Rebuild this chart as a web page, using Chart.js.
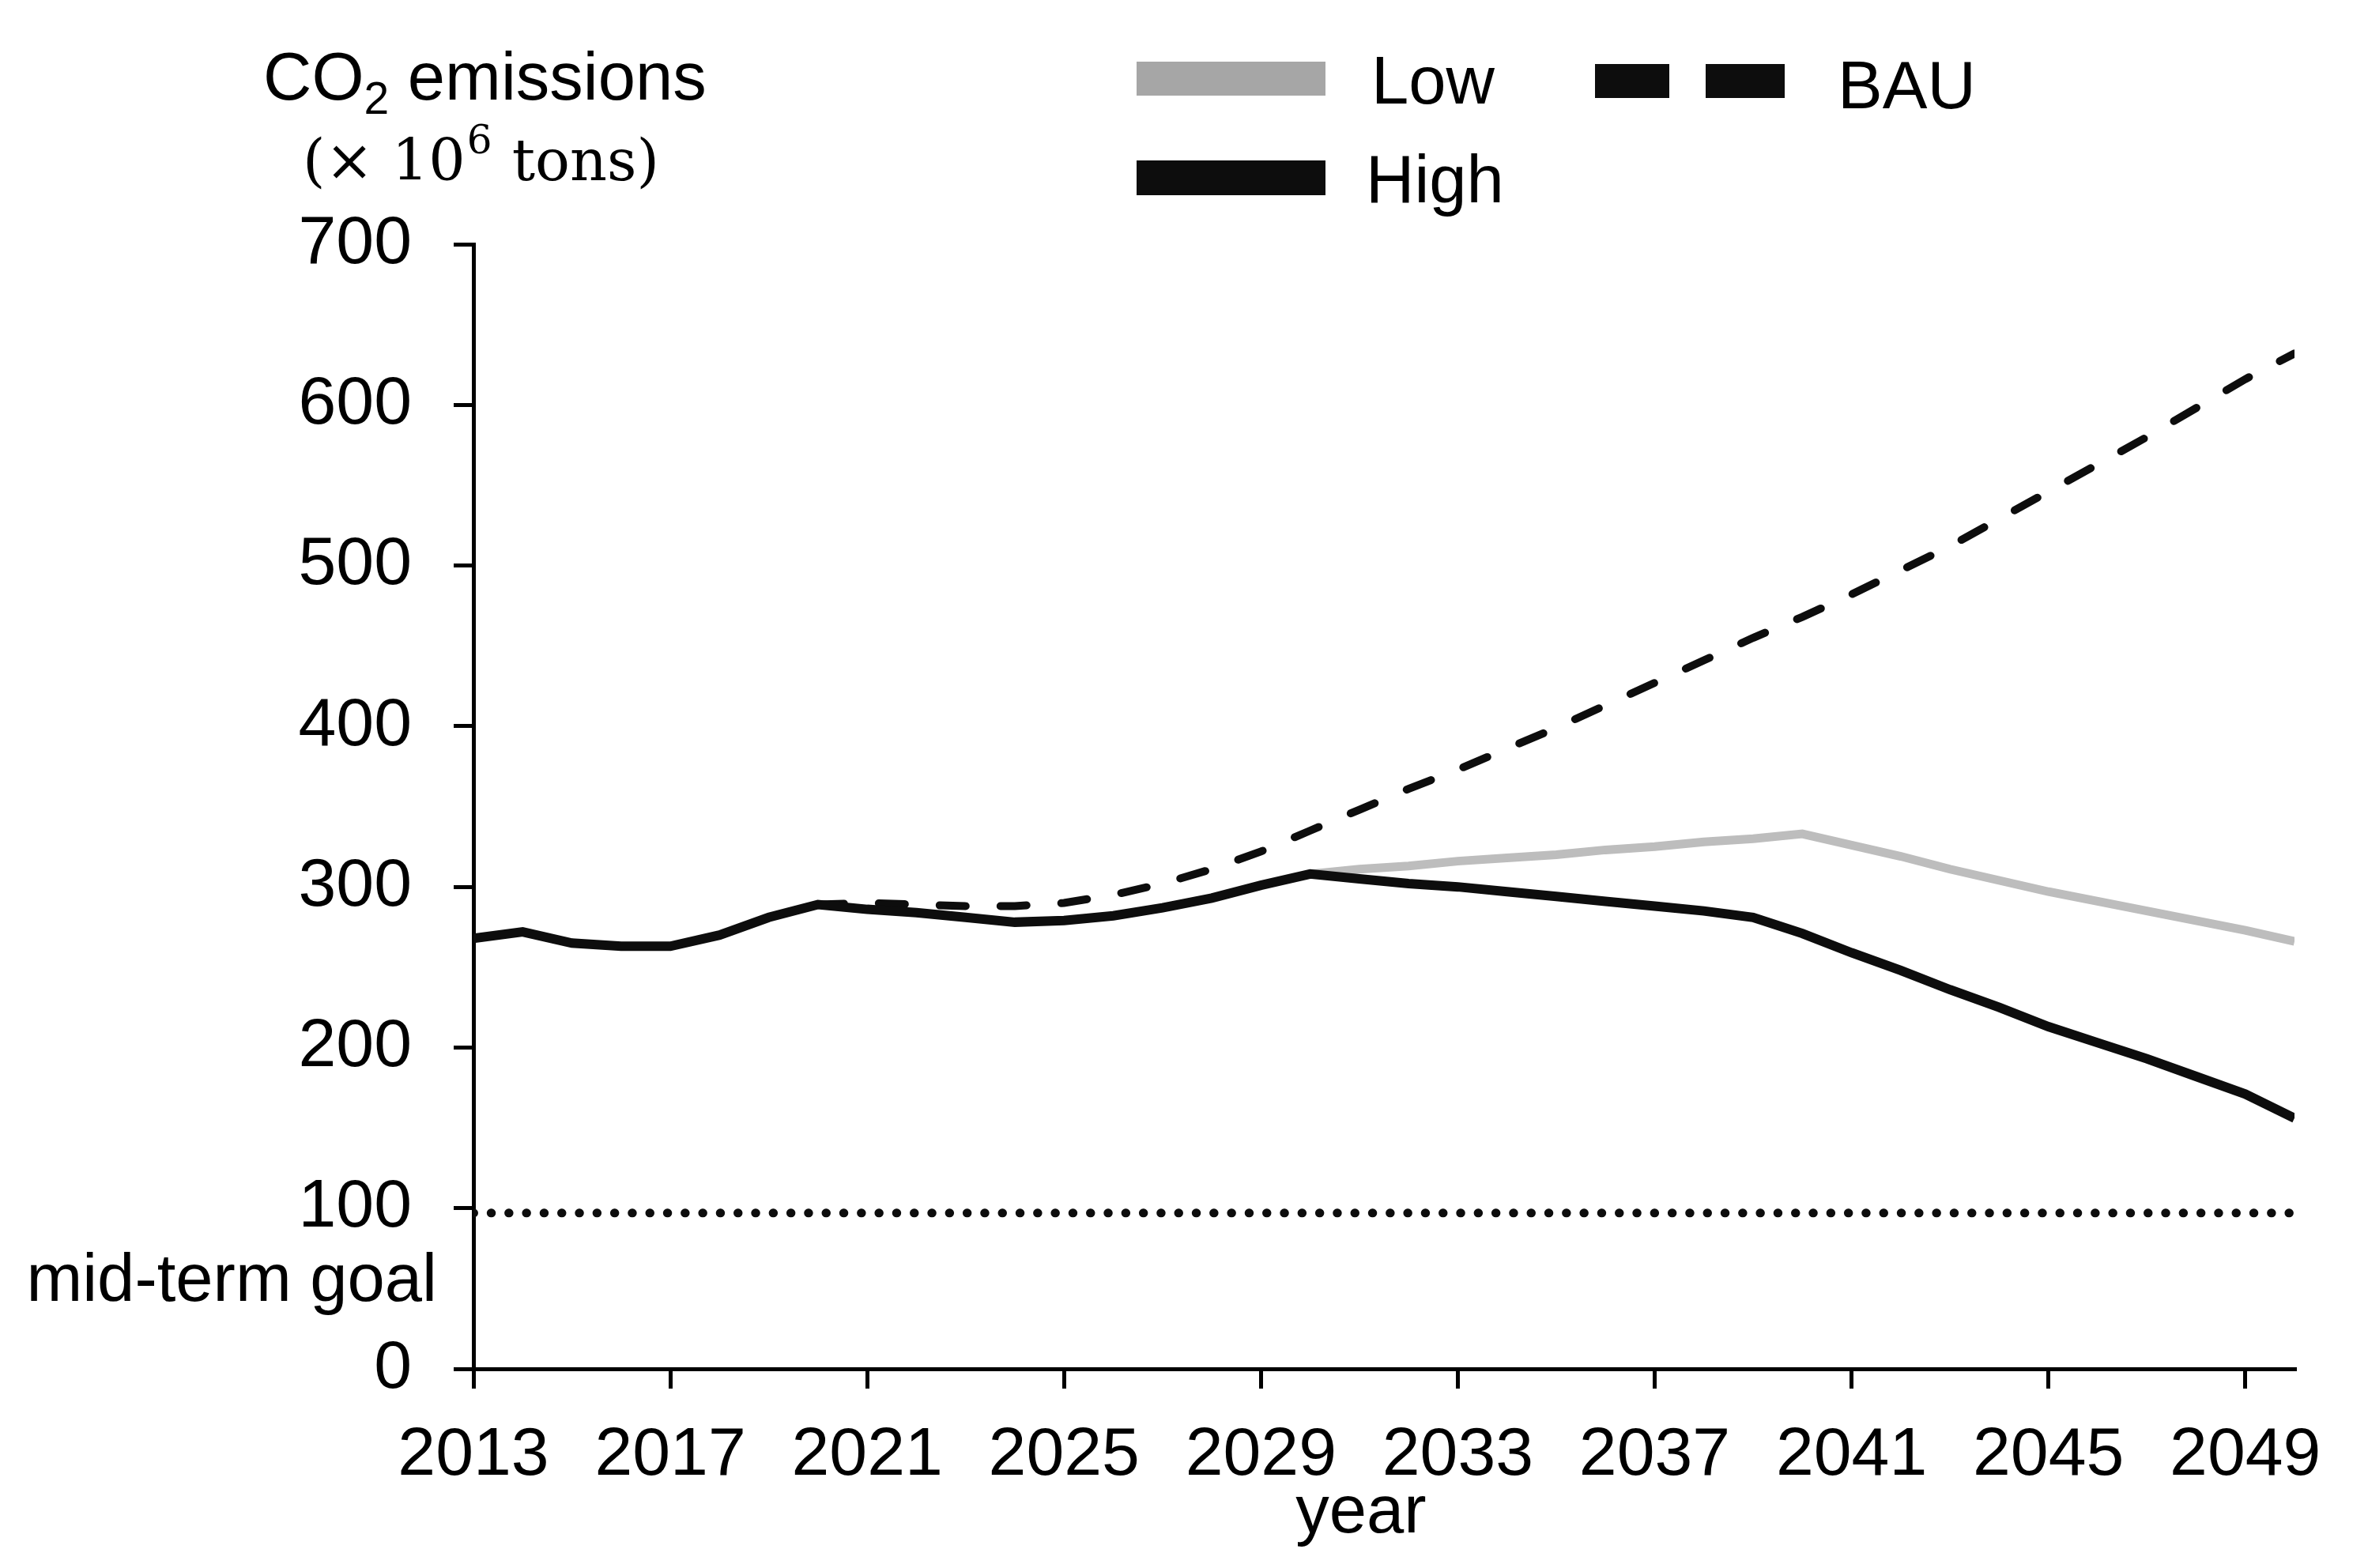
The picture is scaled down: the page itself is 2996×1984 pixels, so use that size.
<!DOCTYPE html>
<html>
<head>
<meta charset="utf-8">
<script src="https://cdn.jsdelivr.net/npm/chart.js@4/dist/chart.umd.min.js"></script>
<style>
  html, body { margin: 0; padding: 0; background: #fff; }
  #wrap { width: 2996px; height: 1984px; }
</style>
</head>
<body>
<div id="wrap"><canvas id="myChart" width="2996" height="1984"></canvas></div>
<script>
// years and values
const yearsHigh = [2013, 2014, 2015, 2016, 2017, 2018, 2019, 2020, 2021, 2022,
    2023, 2024, 2025, 2026, 2027, 2028, 2029, 2030, 2031, 2032,
    2033, 2034, 2035, 2036, 2037, 2038, 2039, 2040, 2041, 2042,
    2043, 2044, 2045, 2046, 2047, 2048, 2049, 2050];
const highValues = [268, 272, 265, 263, 263, 270, 281, 289, 286, 284,
    281, 278, 279, 282, 287, 293, 301, 308, 305, 302,
    300, 297, 294, 291, 288, 285, 281, 271, 259, 248,
    236, 225, 213, 203, 193, 182, 171, 156];

const yearsBAU = [2020, 2021, 2022, 2023, 2024, 2025, 2026, 2027, 2028, 2029,
    2030, 2031, 2032, 2033, 2034, 2035, 2036, 2037, 2038, 2039,
    2040, 2041, 2042, 2043, 2044, 2045, 2046, 2047, 2048, 2049, 2050];
const bauValues = [289, 290, 289, 288, 288, 290, 295, 302, 311, 322,
    335, 348, 361, 373, 386, 399, 413, 427, 441, 455,
    468, 482, 497, 512, 529, 546, 563, 580, 598, 616, 632];

const yearsLow = [2030, 2031, 2032, 2033, 2034, 2035, 2036, 2037, 2038, 2039,
    2040, 2041, 2042, 2043, 2044, 2045, 2046, 2047, 2048, 2049, 2050];
const lowValues = [308, 311, 313, 316, 318, 320, 323, 325, 328, 330,
    333, 326, 319, 311, 304, 297, 291, 285, 279, 273, 266];

const goalYears = [2013, 2050];
const goalValues = [97, 97];

const xTicks = [2013, 2017, 2021, 2025, 2029, 2033, 2037, 2041, 2045, 2049];
const yTicks = [0, 100, 200, 300, 400, 500, 600, 700];

const BLACK = '#0d0d0d';
const GRAY = '#a6a6a6';
const FONT = '"Liberation Sans", Arial, sans-serif';
const SERIF = '"DejaVu Serif", serif';

function pts(xs, ys) {
    return xs.map((x, i) => ({x: x, y: ys[i]}));
}

const data = {
    datasets: [
        {
            label: 'High',
            data: pts(yearsHigh, highValues),
            borderColor: BLACK,
            borderWidth: 12,
        },
        {
            label: 'BAU',
            data: pts(yearsBAU, bauValues),
            borderColor: BLACK,
            borderWidth: 10,
            borderDash: [33, 44],
            borderCapStyle: 'round',
        },
        {
            label: 'Low',
            data: pts(yearsLow, lowValues),
            borderColor: '#bdbdbd',
            borderWidth: 11,
        },
        {
            label: 'mid-term goal',
            data: pts(goalYears, goalValues),
            borderColor: BLACK,
            borderWidth: 11,
            borderDash: [0.5, 21.8],
            borderCapStyle: 'round',
        }
    ]
};

// legend + extra text drawn on the canvas
const extras = {
    id: 'extras',
    afterDraw(chart) {
        const ctx = chart.ctx;
        ctx.save();
        ctx.textBaseline = 'alphabetic';
        ctx.textAlign = 'left';
        ctx.fillStyle = '#000';

        // y title line 1: CO2 emissions
        ctx.font = '85px ' + FONT;
        ctx.fillText('CO', 333, 126);
        let w = ctx.measureText('CO').width;
        ctx.font = '57px ' + FONT;
        ctx.fillText('2', 333 + w, 144);
        let w2 = ctx.measureText('2').width;
        ctx.font = '85px ' + FONT;
        ctx.fillText(' emissions', 333 + w + w2, 126);

        // y title line 2: (x 10^6 tons)
        ctx.font = '73px ' + SERIF;
        let x = 383;
        ctx.fillText('(× 10', x, 228);
        x += ctx.measureText('(× 10').width;
        ctx.font = '50px ' + SERIF;
        ctx.fillText('6', x + 2, 194);
        x += ctx.measureText('6').width + 4;
        ctx.font = '73px ' + SERIF;
        ctx.fillText(' tons)', x, 228);

        // legend
        ctx.fillStyle = GRAY;
        ctx.fillRect(1438, 78, 239, 43);
        ctx.fillStyle = BLACK;
        ctx.fillRect(1438, 203, 239, 44);
        ctx.fillRect(2018, 81, 94, 43);
        ctx.fillRect(2158, 81, 100, 43);
        ctx.fillStyle = '#000';
        ctx.font = '85px ' + FONT;
        ctx.fillText('Low', 1735, 131);
        ctx.fillText('High', 1728, 256);
        ctx.fillText('BAU', 2325, 137);

        // goal label
        ctx.textAlign = 'right';
        ctx.fillText('mid-term goal', 553, 1646);

        // x title
        ctx.textAlign = 'center';
        ctx.fillText('year', 1722, 1939);
        ctx.restore();
    }
};

const config = {
    type: 'line',
    data: data,
    plugins: [extras],
    options: {
        responsive: false,
        animation: false,
        events: [],
        layout: {
            padding: {top: 309, right: 93, left: 0, bottom: 0}
        },
        elements: {
            point: {radius: 0},
            line: {tension: 0, fill: false}
        },
        plugins: {
            legend: {display: false},
            tooltip: {enabled: false}
        },
        scales: {
            x: {
                type: 'linear',
                min: 2013,
                max: 2050,
                afterBuildTicks: (scale) => {
                    scale.ticks = xTicks.map(v => ({value: v}));
                },
                afterFit: (scale) => { scale.height = 252; },
                border: {color: '#000', width: 5},
                grid: {
                    drawOnChartArea: false,
                    drawTicks: true,
                    tickLength: 25,
                    color: '#000',
                    lineWidth: 5
                },
                ticks: {
                    color: '#000',
                    font: {family: FONT, size: 86},
                    padding: 34,
                    maxRotation: 0,
                    autoSkip: false,
                    callback: (v) => String(v)
                }
            },
            y: {
                min: 0,
                max: 700,
                afterBuildTicks: (scale) => {
                    scale.ticks = yTicks.map(v => ({value: v}));
                },
                afterFit: (scale) => { scale.width = 599; },
                border: {color: '#000', width: 5},
                grid: {
                    drawOnChartArea: false,
                    drawTicks: true,
                    tickLength: 25,
                    color: '#000',
                    lineWidth: 5
                },
                ticks: {
                    color: '#000',
                    font: {family: FONT, size: 86},
                    padding: 53
                }
            }
        }
    }
};

let myChart = new Chart(
    document.getElementById('myChart'),
    config
);
</script>
</body>
</html>
